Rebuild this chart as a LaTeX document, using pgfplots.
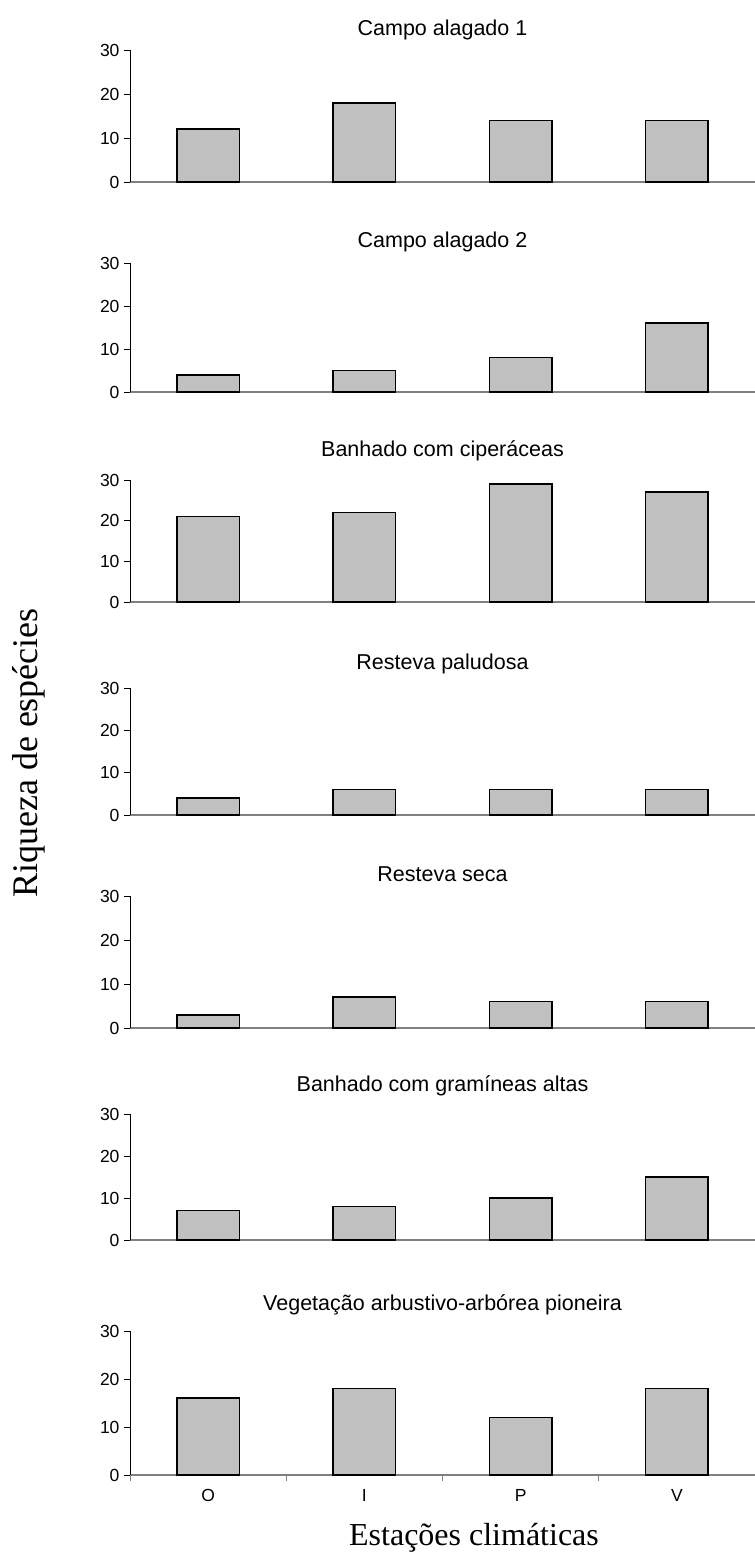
\documentclass[border=0pt]{standalone}
\usepackage{pgfplots}
\pgfplotsset{compat=1.18}
\usepackage{fontspec}
\setmainfont{Liberation Sans}
\newfontfamily\timesfont{Liberation Serif}

\definecolor{barfill}{RGB}{192,192,192}
\definecolor{baseline}{RGB}{128,128,128}

\pgfplotsset{
  every axis title shift=0pt,
  panel/.style={
    scale only axis,
    width=625pt,
    xmin=-0.5, xmax=3.5,
    ymin=0, ymax=30,
    axis x line*=bottom,
    axis y line*=left,
    x axis line style={draw=baseline, line width=1.4pt, -},
    y axis line style={draw=black, line width=0.9pt, -},
    ytick={0,10,20,30},
    xtick=\empty,
    tick align=outside,
    major tick length=6pt,
    ytick style={draw=black, line width=0.8pt},
    /pgf/number format/assume math mode=true,
    yticklabel style={font=\fontsize{17.5}{18}\selectfont, xshift=-1pt},
    ybar,
    bar width=0.4,
    title style={font=\fontsize{21.5}{22}\selectfont, anchor=base, at={(0.5,1)}},
  },
  bars/.style={fill=barfill, draw=black, line width=1.7pt},
}

\begin{document}
\begin{tikzpicture}
\useasboundingbox (0pt,0pt) rectangle (755pt,-1559pt);

% Campo alagado 1
\begin{axis}[panel, at={(130pt,-182pt)}, anchor=south west, height=132pt,
  title={Campo alagado 1}, title style={yshift=14.3pt}]
  \addplot[bars] coordinates {(0,12) (1,18) (2,14) (3,14)};
\end{axis}

% Campo alagado 2
\begin{axis}[panel, at={(130pt,-392pt)}, anchor=south west, height=129pt,
  title={Campo alagado 2}, title style={yshift=15.3pt}]
  \addplot[bars] coordinates {(0,4) (1,5) (2,8) (3,16)};
\end{axis}

% Banhado com ciperáceas
\begin{axis}[panel, at={(130pt,-602pt)}, anchor=south west, height=122pt,
  title={Banhado com ciperáceas}, title style={yshift=23.3pt}]
  \addplot[bars] coordinates {(0,21) (1,22) (2,29) (3,27)};
\end{axis}

% Resteva paludosa
\begin{axis}[panel, at={(130pt,-815pt)}, anchor=south west, height=127pt,
  title={Resteva paludosa}, title style={yshift=18.3pt}]
  \addplot[bars] coordinates {(0,4) (1,6) (2,6) (3,6)};
\end{axis}

% Resteva seca
\begin{axis}[panel, at={(130pt,-1028pt)}, anchor=south west, height=132pt,
  title={Resteva seca}, title style={yshift=14.3pt}]
  \addplot[bars] coordinates {(0,3) (1,7) (2,6) (3,6)};
\end{axis}

% Banhado com gramíneas altas
\begin{axis}[panel, at={(130pt,-1240pt)}, anchor=south west, height=126pt,
  title={Banhado com gramíneas altas}, title style={yshift=22.3pt}]
  \addplot[bars] coordinates {(0,7) (1,8) (2,10) (3,15)};
\end{axis}

% Vegetação arbustivo-arbórea pioneira (with season labels)
\begin{axis}[panel, at={(130pt,-1475pt)}, anchor=south west, height=144pt,
  title={Vegetação arbustivo-arbórea pioneira}, title style={yshift=20.3pt},
  xtick={-0.5,0.5,1.5,2.5,3.5},
  x tick label as interval,
  xticklabels={O,I,P,V},
  xtick style={draw=baseline, line width=0.8pt},
  xticklabel style={font=\fontsize{17.5}{18}\selectfont, yshift=-5pt}]
  \addplot[bars] coordinates {(0,16) (1,18) (2,12) (3,18)};
\end{axis}

% axis descriptions shared by all panels
\node[font=\timesfont\fontsize{32}{32}\selectfont] at (474pt,-1538pt) {Estações climáticas};
\node[font=\timesfont\fontsize{36}{36}\selectfont, rotate=90] at (29pt,-753pt) {Riqueza de espécies};
\end{tikzpicture}
\end{document}
